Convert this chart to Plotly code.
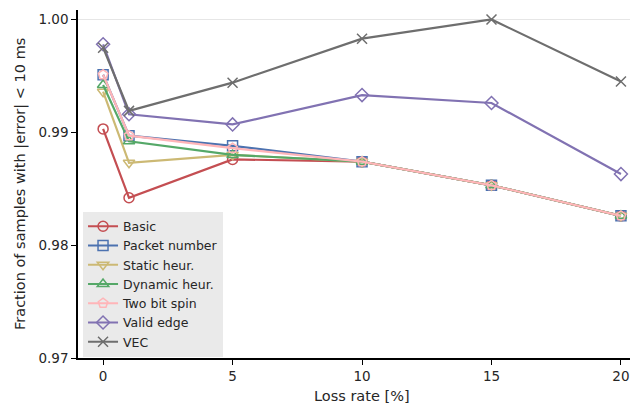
import plotly.graph_objects as go

loss_rate = [0, 1, 5, 10, 15, 20]
series_names = ["Basic", "Packet number", "Static heur.", "Dynamic heur.",
                "Two bit spin", "Valid edge", "VEC"]
basic = [0.9903, 0.9842, 0.9876, 0.9874, 0.9853, 0.9826]
packet_number = [0.9951, 0.9897, 0.9888, 0.9874, 0.9853, 0.9826]
static_heur = [0.9936, 0.9873, 0.9880, 0.9874, 0.9853, 0.9826]
dynamic_heur = [0.9942, 0.9892, 0.9880, 0.9874, 0.9853, 0.9826]
two_bit_spin = [0.9951, 0.9897, 0.9886, 0.9874, 0.9853, 0.9826]
valid_edge = [0.9978, 0.9916, 0.9907, 0.9933, 0.9926, 0.9863]
vec = [0.9975, 0.9919, 0.9944, 0.9983, 1.0000, 0.9945]
y_ticks = [0.97, 0.98, 0.99, 1.00]
x_ticks = [0, 5, 10, 15, 20]

values = [basic, packet_number, static_heur, dynamic_heur, two_bit_spin, valid_edge, vec]
colors = ["#C44E52", "#4C72B0", "#CCB974", "#55A868", "#FFB5B8", "#8172B2", "#6E6E6E"]
symbols = ["circle-open", "square-open", "triangle-down-open", "triangle-up-open",
           "pentagon-open", "diamond-open", "x-thin-open"]

fig = go.Figure()
for name, vals, col, sym in zip(series_names, values, colors, symbols):
    fig.add_trace(go.Scatter(
        x=loss_rate, y=vals, name=name, mode="lines+markers",
        line=dict(color=col, width=2.2),
        marker=dict(symbol=sym, size=10, color=col, line=dict(color=col, width=1.5)),
    ))

fig.add_shape(type="line", xref="paper", x0=0, x1=1, yref="y", y0=1.0, y1=1.0,
              line=dict(color="#E6E6E6", width=1), layer="below")

fig.add_annotation(text="Fraction of samples with |error| < 10 ms", xref="paper", yref="paper",
                   x=0, y=0.5, xshift=-58, textangle=-90, showarrow=False,
                   xanchor="center", yanchor="middle", font=dict(size=14.5, color="#262626"))
fig.add_annotation(text="Loss rate [%]", xref="x", yref="paper", x=10, y=0, yshift=-38,
                   showarrow=False, xanchor="center", yanchor="middle",
                   font=dict(size=14.5, color="#262626"))

# page body has an 8 px margin, so the figure is 8 px smaller and margins shifted
fig.update_layout(
    width=630, height=399,
    margin=dict(l=70, r=1, t=2, b=49),
    paper_bgcolor="white", plot_bgcolor="white",
    font=dict(family="DejaVu Sans", color="#262626"),
    showlegend=True,
    legend=dict(x=0.009, y=0.004, xanchor="left", yanchor="bottom",
                bgcolor="#EAEAEA", font=dict(size=12.5, color="#262626"),
                borderwidth=0, tracegroupgap=0, itemwidth=30),
    xaxis=dict(range=[-0.97, 20.62], tickvals=x_ticks, ticks="outside", ticklen=5,
               tickcolor="black", showline=True, linecolor="black", linewidth=1.5,
               showgrid=False, zeroline=False, tickfont=dict(size=13.5),
               automargin=False),
    yaxis=dict(range=[0.97, 1.00084], tickvals=y_ticks, tickformat=".2f",
               ticks="outside", ticklen=5, tickcolor="black", showline=True,
               linecolor="black", linewidth=1.5, showgrid=False, zeroline=False,
               tickfont=dict(size=13.5), automargin=False),
)

fig.write_html("out.html")
